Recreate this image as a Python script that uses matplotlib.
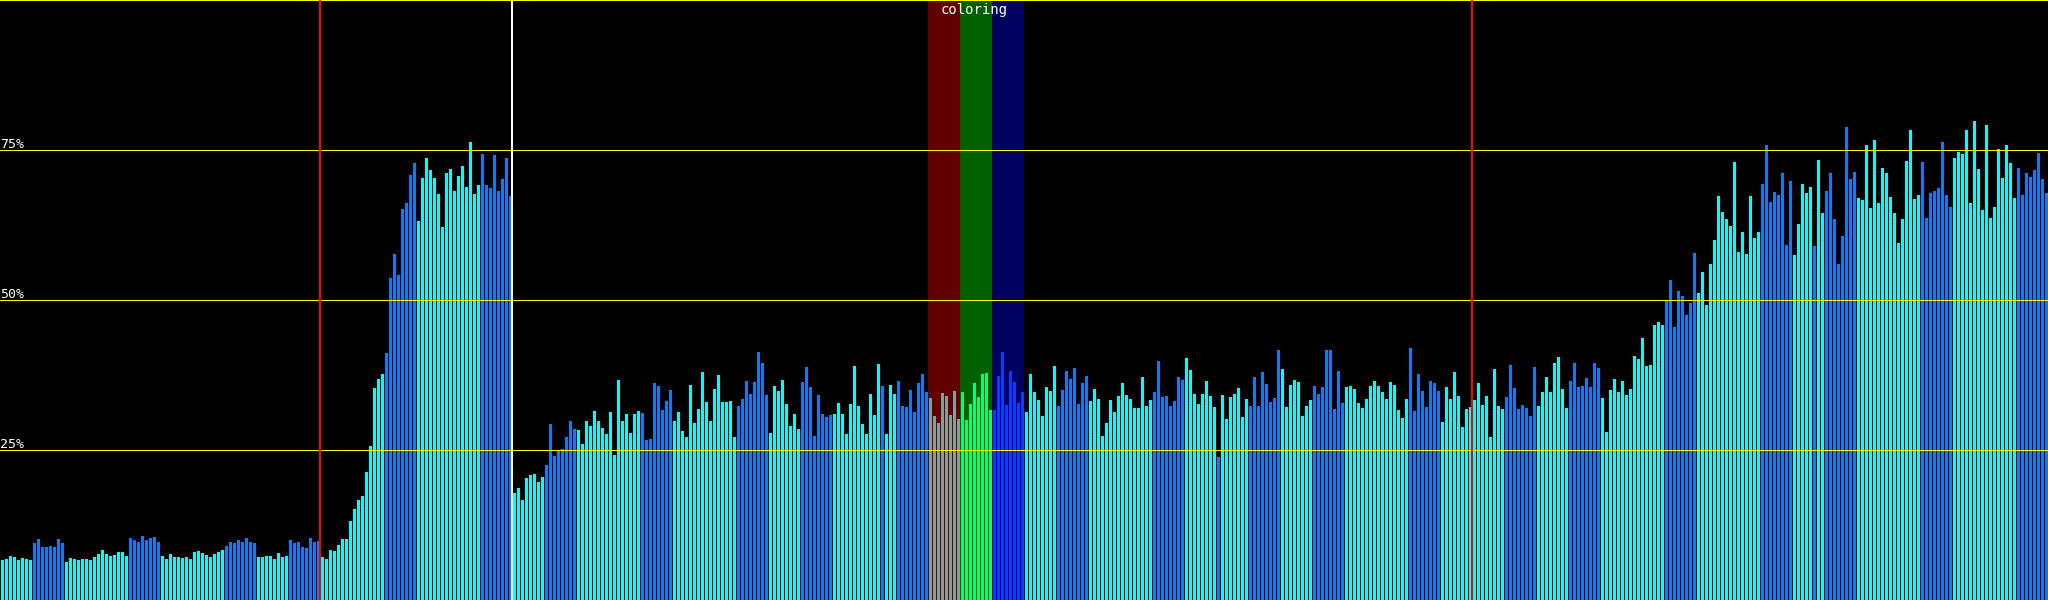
import numpy as np
import matplotlib
matplotlib.use("Agg")
import matplotlib.pyplot as plt

# ---- data -----------------------------------------------------------------
values = [
    6.7, 6.8, 7.3, 7.2, 6.7, 7.0, 6.8, 6.7,
    9.5, 10.1, 8.8, 8.8, 9.0, 8.8, 10.2, 9.5,
    6.3, 7.0, 6.8, 6.7, 6.8, 6.8, 6.7, 7.2,
    7.7, 8.3, 7.7, 7.3, 7.5, 8.0, 8.0, 7.3,
    10.3, 10.0, 9.7, 10.7, 10.0, 10.3, 10.5, 9.7,
    7.3, 6.8, 7.7, 7.2, 7.2, 7.0, 7.2, 6.8,
    8.0, 8.2, 7.8, 7.5, 7.2, 7.7, 8.0, 8.3,
    9.0, 9.7, 9.5, 10.0, 9.7, 10.3, 9.7, 9.5,
    7.2, 7.2, 7.3, 7.3, 6.8, 7.8, 7.2, 7.3,
    10.0, 9.5, 9.7, 8.8, 8.7, 10.4, 9.7, 9.9,
    7.1, 6.9, 8.4, 8.2, 9.2, 10.1, 10.1, 13.1,
    15.1, 16.7, 17.4, 21.4, 25.6, 35.4, 36.9, 37.6,
    41.2, 53.6, 57.6, 54.2, 65.2, 66.1, 70.9, 72.9,
    63.1, 70.4, 73.7, 71.7, 70.4, 67.7, 62.2, 71.2,
    71.9, 68.1, 70.7, 72.4, 68.9, 76.4, 67.7, 69.2,
    74.4, 69.2, 68.6, 74.1, 68.2, 70.1, 73.6, 67.4,
    17.9, 18.7, 16.7, 20.4, 20.9, 21.0, 19.7, 20.5,
    22.5, 29.3, 24.0, 24.8, 25.2, 27.2, 29.8, 28.5,
    28.3, 26.0, 29.8, 29.0, 31.5, 29.8, 28.7, 27.7,
    31.3, 24.2, 36.7, 29.8, 31.0, 27.8, 31.0, 31.5,
    31.2, 26.7, 26.8, 36.2, 35.7, 31.7, 33.2, 35.0,
    29.8, 31.3, 28.2, 27.2, 35.8, 29.5, 31.8, 38.0,
    33.0, 29.8, 35.2, 37.5, 33.0, 33.0, 33.2, 27.2,
    32.3, 33.5, 36.5, 34.3, 36.3, 41.3, 39.5, 34.2,
    27.8, 35.7, 34.8, 36.7, 32.7, 29.0, 31.0, 28.5,
    36.3, 38.8, 35.5, 27.3, 34.2, 31.0, 30.5, 30.8,
    31.0, 32.8, 31.0, 27.7, 32.7, 39.0, 32.3, 29.3,
    27.7, 34.3, 30.8, 39.3, 35.7, 27.7, 35.8, 34.3,
    36.5, 32.3, 32.2, 35.0, 31.3, 36.2, 37.7, 34.7,
    33.7, 30.7, 29.5, 34.5, 34.0, 30.8, 34.8, 30.2,
    34.7, 30.0, 32.7, 36.2, 33.8, 37.7, 37.8, 31.7,
    31.7, 37.3, 41.3, 32.5, 38.2, 36.3, 32.8, 34.7,
    31.3, 37.7, 34.7, 33.3, 30.7, 35.5, 34.8, 39.0,
    32.3, 35.0, 38.2, 36.8, 38.7, 32.7, 36.2, 37.3,
    33.2, 35.2, 33.5, 27.3, 29.5, 33.3, 31.3, 34.0,
    36.2, 34.2, 33.5, 32.0, 32.0, 37.2, 32.3, 33.3,
    34.7, 39.8, 33.8, 34.0, 32.3, 33.2, 37.2, 36.7,
    40.3, 38.3, 34.3, 32.7, 34.3, 36.5, 34.0, 32.2,
    23.8, 34.2, 30.2, 33.8, 34.3, 35.3, 30.5, 33.5,
    32.3, 37.2, 32.3, 38.0, 36.0, 33.0, 33.7, 41.7,
    38.5, 32.2, 35.8, 36.7, 36.3, 30.7, 32.3, 33.3,
    35.7, 34.3, 35.5, 41.7, 41.7, 31.8, 38.2, 32.8,
    35.5, 35.7, 35.2, 32.8, 32.0, 33.5, 35.7, 36.5,
    35.7, 34.7, 33.5, 36.3, 35.8, 31.7, 30.3, 33.5,
    42.0, 31.5, 37.7, 34.8, 32.2, 36.5, 36.2, 34.8,
    29.7, 35.5, 33.5, 38.0, 34.0, 28.8, 31.8, 32.2,
    33.3, 36.2, 32.5, 34.0, 27.2, 38.5, 32.3, 31.8,
    33.8, 39.2, 35.3, 31.8, 32.5, 32.0, 30.7, 38.8,
    32.3, 34.7, 37.2, 34.7, 39.5, 40.5, 35.2, 32.0,
    36.5, 39.5, 35.5, 35.7, 37.0, 35.5, 39.5, 38.7,
    33.7, 28.0, 35.0, 36.8, 34.7, 36.5, 34.2, 35.2,
    40.7, 40.2, 43.7, 39.0, 39.2, 45.8, 46.3, 45.8,
    50.0, 53.3, 45.5, 51.5, 50.7, 47.5, 49.5, 57.8,
    51.2, 54.7, 49.2, 56.0, 60.0, 67.3, 64.7, 63.5,
    62.3, 73.0, 58.0, 61.3, 57.7, 67.3, 60.3, 61.3,
    69.3, 75.8, 66.3, 68.0, 67.5, 71.2, 59.2, 69.8,
    57.5, 62.7, 69.3, 67.8, 68.8, 59.0, 73.3, 64.5,
    68.2, 71.2, 63.5, 56.0, 60.7, 78.8, 70.2, 71.3,
    67.0, 66.7, 75.8, 65.3, 76.7, 66.2, 72.0, 71.2,
    67.2, 64.5, 59.5, 63.5, 73.2, 78.3, 66.8, 67.5,
    73.0, 63.7, 67.8, 68.2, 68.7, 76.3, 67.5, 65.5,
    73.7, 74.7, 74.3, 78.3, 66.2, 79.8, 71.8, 65.0,
    79.2, 63.7, 65.5, 75.2, 70.3, 75.8, 72.8, 67.0,
    72.0, 67.5, 71.2, 70.5, 71.7, 74.5, 70.2, 67.8,
]

# colour category of each block of 8 bars
block_kinds = list("cbccbccbcb" "ccbccbcbcc" "bccbcbccbr" "gucbccbccb"
                   "cbccbccbcb" "ccbccbcbcc" "bccb")
single_overrides = {220: "b", 304: "b", 453: "b"}

red_markers = [80, 368]
white_markers = [128]
band_names = ["r", "g", "u"]
band_starts = [232, 240, 248]
band_label = "coloring"
grid_levels = [25, 50, 75]
grid_labels = ["25%", "50%", "75%"]

# ---- styling ---------------------------------------------------------------
bar_colors = {"c": "#00ffff", "b": "#0a80f0", "r": "#80a0a0",
              "g": "#00ff80", "u": "#0040ff"}
band_colors = {"r": "#600000", "g": "#006000", "u": "#000060"}

kinds = []
for k in block_kinds:
    kinds.extend([k] * 8)
for i, k in single_overrides.items():
    kinds[i] = k
colors = [bar_colors[k] for k in kinds]

n = len(values)
fig = plt.figure(figsize=(20.48, 6), dpi=100, facecolor="black")
ax = fig.add_axes([0, 0, 1, 1])
ax.set_facecolor("black")
ax.set_xlim(0, n)
ax.set_ylim(0, 100)
ax.axis("off")

for name, start in zip(band_names, band_starts):
    ax.axvspan(start, start + 8, color=band_colors[name], lw=0, zorder=0)

x = np.arange(n) + 0.25
ax.bar(x, values, width=0.75, align="edge", color=colors, linewidth=0,
       zorder=2, antialiased=False)

px = 0.72  # one pixel in points at dpi 100
for lvl, lab in zip(grid_levels, grid_labels):
    ax.axhline(lvl, color="#ffff00", lw=1.0 * px, zorder=3, antialiased=False)
    ax.annotate(lab, xy=(0, lvl), xytext=(0, 2), textcoords="offset pixels",
                color="white", fontsize=9.5, family="DejaVu Sans Mono",
                va="baseline", ha="left", zorder=5)
ax.axhline(100, color="#ffff00", lw=2.0 * px, zorder=3, antialiased=False)

for m in red_markers:
    ax.axvline(m, color="#ff0000", lw=1.5 * px, zorder=4, antialiased=False)
for m in white_markers:
    ax.axvline(m, color="#ffffff", lw=1.5 * px, zorder=4, antialiased=False)

center = (band_starts[0] + band_starts[-1] + 8) / 2
ax.annotate(band_label, xy=(center, 100), xytext=(-2, -14),
            textcoords="offset pixels", color="white", fontsize=10,
            family="DejaVu Sans Mono", va="baseline", ha="center", zorder=5)

fig.savefig("out.png", dpi=100, facecolor="black")
